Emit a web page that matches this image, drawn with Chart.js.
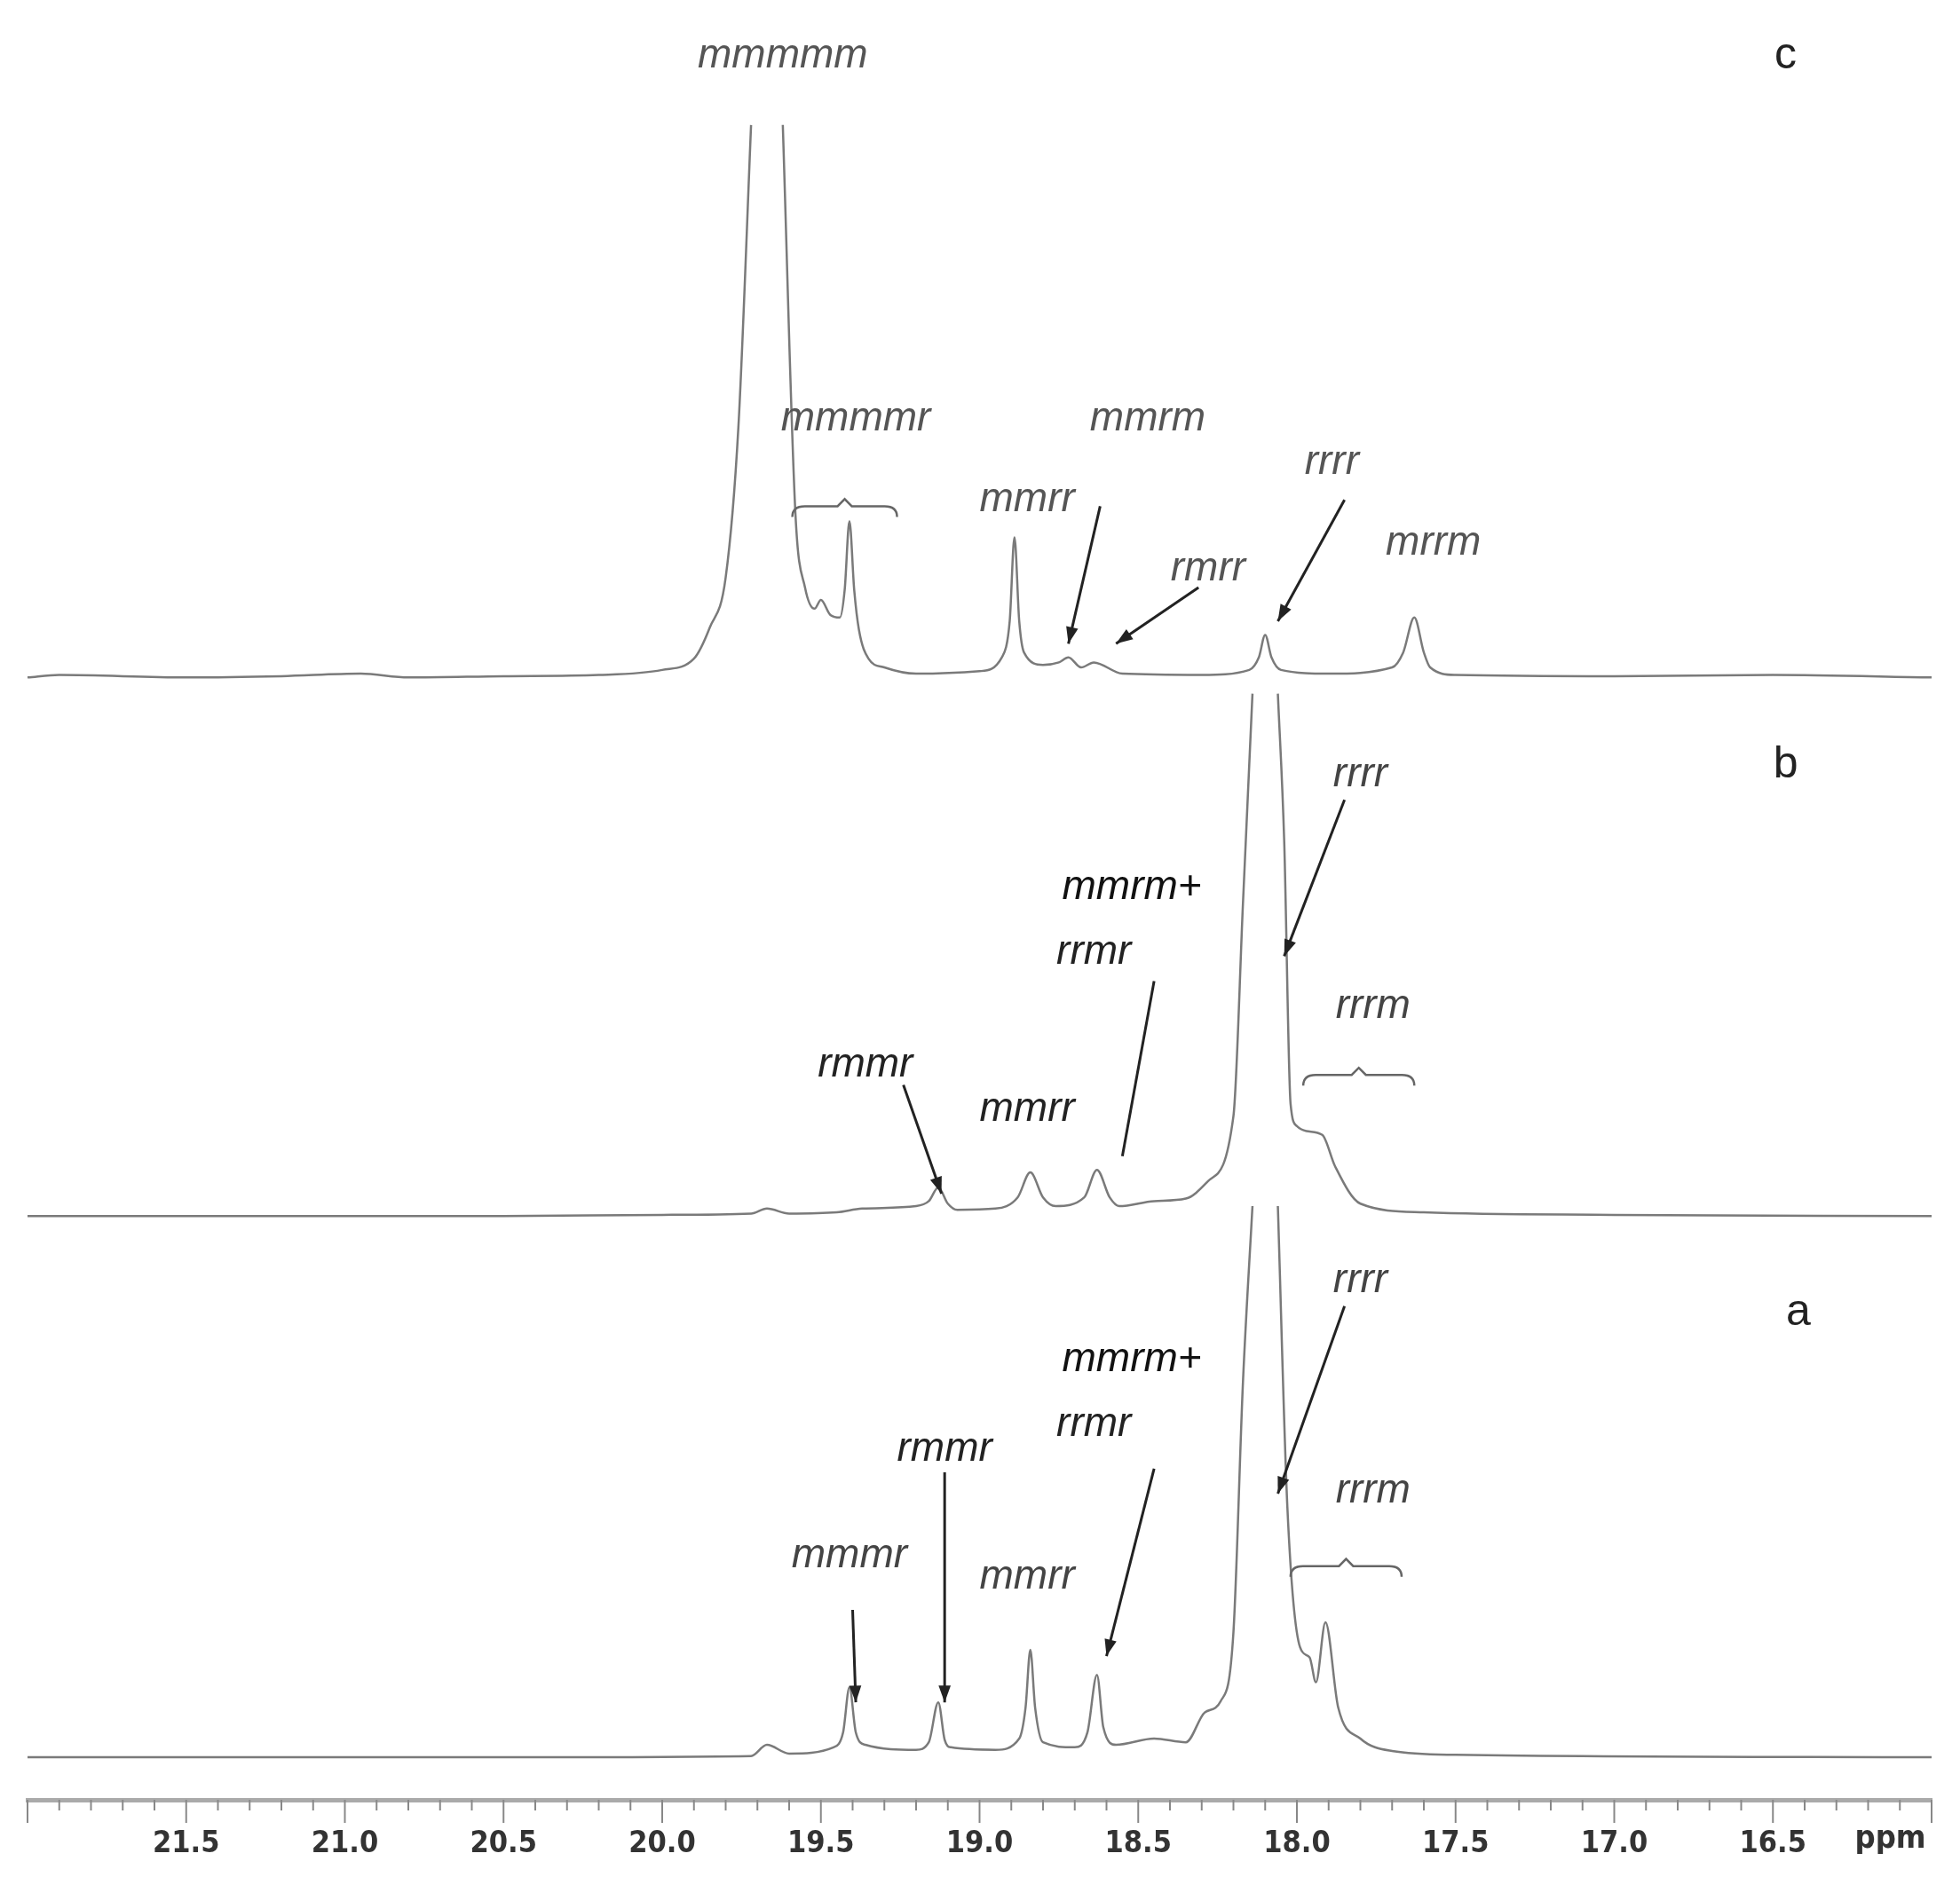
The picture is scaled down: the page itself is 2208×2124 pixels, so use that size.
<!DOCTYPE html>
<html>
<head>
<meta charset="utf-8">
<script src="https://cdn.jsdelivr.net/npm/chart.js@4"></script>
<style>body{margin:0;background:#fff}</style>
</head>
<body>
<canvas id="myChart" width="2208" height="2124"></canvas>
<script>
// spectra: [ppm, height above own baseline]; y axis runs in the figure's own units, 0 at top
var specC = [[22.0,0],[21.9,2],[21.5,0],[21.2,1],[20.95,3],[20.8,0],[20.5,1],[20.2,2],[20.0,6],[19.9,15],[19.85,40],[19.8,80],[19.76,200],[19.72,442],[19.67,null],[19.62,442],[19.58,130],[19.55,72],[19.52,55],[19.5,62],[19.47,50],[19.44,48],[19.425,70],[19.41,125],[19.395,70],[19.38,38],[19.35,15],[19.3,8],[19.2,3],[19.0,5],[18.93,16],[18.905,45],[18.89,112],[18.875,45],[18.86,20],[18.8,10],[18.75,12],[18.72,16],[18.68,8],[18.64,12],[18.55,3],[18.3,2],[18.15,6],[18.12,16],[18.1,34],[18.08,16],[18.05,6],[17.9,3],[17.7,8],[17.665,20],[17.63,48],[17.6,20],[17.58,8],[17.5,2],[17.0,1],[16.5,2],[16.0,0]];
var specB = [[22.0,0],[20.5,0],[20.0,1],[19.72,2],[19.67,6],[19.6,2],[19.45,3],[19.37,6],[19.2,8],[19.16,12],[19.13,23],[19.1,10],[19.07,5],[18.95,6],[18.88,15],[18.84,35],[18.8,15],[18.76,8],[18.67,15],[18.63,37],[18.59,15],[18.56,8],[18.45,12],[18.35,14],[18.28,28],[18.2,80],[18.17,250],[18.14,418],[18.1,null],[18.06,418],[18.04,300],[18.02,90],[18.0,72],[17.97,68],[17.92,65],[17.88,40],[17.8,10],[17.6,3],[17.0,1],[16.0,0]];
var specA = [[22.0,0],[20.5,0],[19.72,1],[19.67,10],[19.6,3],[19.46,8],[19.43,20],[19.41,56],[19.39,20],[19.36,10],[19.2,6],[19.16,12],[19.13,44],[19.11,14],[19.09,8],[18.95,6],[18.875,15],[18.855,40],[18.84,86],[18.825,40],[18.8,12],[18.7,8],[18.66,20],[18.63,66],[18.61,24],[18.57,10],[18.45,15],[18.35,12],[18.29,36],[18.24,45],[18.2,100],[18.17,300],[18.14,441],[18.1,null],[18.06,441],[18.03,200],[17.99,88],[17.96,80],[17.94,60],[17.91,108],[17.87,40],[17.8,15],[17.7,5],[17.5,2],[16.0,0]];
var baselines = [542, 973, 1406];
var tickLabels = ['21.5','21.0','20.5','20.0','19.5','19.0','18.5','18.0','17.5','17.0','16.5'];

// labels: [text, ppm, y, colour, italic]
var labelsText = [
  ['mmmmm',19.62,45,'#555',1],['mmmmr',19.39,335,'#555',1],['mmrm',18.47,335,'#555',1],
  ['mmrr',18.85,400,'#555',1],['rmrr',18.28,455,'#555',1],['rrrr',17.89,370,'#555',1],
  ['mrrm',17.57,435,'#555',1],['c',16.46,45,'#222',0],
  ['b',16.46,612,'#222',0],['rrrr',17.80,620,'#444',1],['mmrm+',18.52,710,'#111',1],
  ['rrmr',18.64,762,'#222',1],['rrrm',17.76,805,'#444',1],['rmmr',19.36,852,'#222',1],['mmrr',18.85,888,'#222',1],
  ['a',16.42,1050,'#222',0],['rrrr',17.80,1025,'#444',1],['mmrm+',18.52,1088,'#111',1],
  ['rrmr',18.64,1140,'#222',1],['rrrm',17.76,1193,'#444',1],['rmmr',19.11,1160,'#222',1],
  ['mmmr',19.41,1245,'#444',1],['mmrr',18.85,1262,'#444',1]
];
// arrows: [ppm1, y1, ppm2, y2, head]
var arrows = [
  [18.62,405,18.72,515,1],[18.31,470,18.57,515,1],[17.85,400,18.06,497,1],
  [17.85,640,18.04,765,1],[18.45,785,18.55,925,0],[19.24,868,19.12,955,1],
  [17.85,1045,18.06,1195,1],[18.45,1175,18.60,1325,1],[19.11,1178,19.11,1362,1],[19.40,1288,19.39,1362,1]
];
// braces: [ppmLeft, ppmRight, y]
var braces = [[19.59,19.26,405],[17.98,17.63,860],[18.02,17.67,1253]];

function toXY(spec, base) {
  return spec.map(function (p) { return {x: p[0], y: p[1] === null ? null : base - p[1]}; });
}

var overlay = {
  id: 'overlay',
  afterDraw: function (chart) {
    var c = chart.ctx, xs = chart.scales.x, ys = chart.scales.y;
    c.save();
    // minor ticks
    c.strokeStyle = '#888'; c.lineWidth = 2;
    var yb = chart.chartArea.bottom;
    for (var v = 160; v <= 220; v++) {
      var px = xs.getPixelForValue(v / 10);
      c.beginPath(); c.moveTo(px, yb); c.lineTo(px, yb + (v % 5 === 0 ? 26 : 12)); c.stroke();
    }
    c.fillStyle = '#333'; c.font = 'bold 36px "DejaVu Sans Condensed", sans-serif';
    c.textAlign = 'center'; c.textBaseline = 'middle';
    c.fillText('ppm', xs.getPixelForValue(16.13), ys.getPixelForValue(1472));
    labelsText.forEach(function (l) {
      c.fillStyle = l[3];
      c.font = (l[4] ? 'italic 46px' : '50px') + ' "Liberation Sans", sans-serif';
      c.fillText(l[0], xs.getPixelForValue(l[1]), ys.getPixelForValue(l[2]));
    });
    c.strokeStyle = '#222'; c.fillStyle = '#222'; c.lineWidth = 3;
    arrows.forEach(function (a) {
      var x1 = xs.getPixelForValue(a[0]), y1 = ys.getPixelForValue(a[1]);
      var x2 = xs.getPixelForValue(a[2]), y2 = ys.getPixelForValue(a[3]);
      c.beginPath(); c.moveTo(x1, y1); c.lineTo(x2, y2); c.stroke();
      if (a[4]) {
        var ang = Math.atan2(y2 - y1, x2 - x1);
        c.beginPath(); c.moveTo(x2, y2);
        c.lineTo(x2 - 20 * Math.cos(ang - 0.35), y2 - 20 * Math.sin(ang - 0.35));
        c.lineTo(x2 - 20 * Math.cos(ang + 0.35), y2 - 20 * Math.sin(ang + 0.35));
        c.closePath(); c.fill();
      }
    });
    c.strokeStyle = '#666'; c.lineWidth = 2.5;
    braces.forEach(function (b) {
      var x1 = xs.getPixelForValue(b[0]), x2 = xs.getPixelForValue(b[1]), y = ys.getPixelForValue(b[2]);
      var m = (x1 + x2) / 2;
      c.beginPath();
      c.moveTo(x1, y + 12); c.quadraticCurveTo(x1, y, x1 + 14, y);
      c.lineTo(m - 8, y); c.lineTo(m, y - 8); c.lineTo(m + 8, y);
      c.lineTo(x2 - 14, y); c.quadraticCurveTo(x2, y, x2, y + 12);
      c.stroke();
    });
    c.restore();
  }
};

var ds = function (spec, base) {
  return {data: toXY(spec, base), borderColor: '#7a7a7a', borderWidth: 2.5, pointRadius: 0,
          tension: 0.3, cubicInterpolationMode: 'monotone', spanGaps: false, fill: false};
};

new Chart(document.getElementById('myChart').getContext('2d'), {
  type: 'line',
  data: {datasets: [ds(specC, baselines[0]), ds(specB, baselines[1]), ds(specA, baselines[2])]},
  options: {
    responsive: false, animation: false, devicePixelRatio: 1,
    layout: {padding: {left: 31, right: 32, top: 0, bottom: 0}},
    plugins: {legend: {display: false}, tooltip: {enabled: false}},
    scales: {
      x: {type: 'linear', min: 16, max: 22, reverse: true,
          afterFit: function (s) { s.height = 96; },
          border: {color: '#aaa', width: 5},
          grid: {drawOnChartArea: false, drawTicks: false},
          afterBuildTicks: function (s) { s.ticks = tickLabels.map(function (t) { return {value: parseFloat(t)}; }); },
          ticks: {padding: 30, color: '#333', font: {size: 34, weight: 'bold', family: '"DejaVu Sans Condensed", sans-serif'},
                  callback: function (v) { return v.toFixed(1); }}},
      y: {display: false, min: 0, max: 1440, reverse: true}
    }
  },
  plugins: [overlay]
});
</script>
</body>
</html>
